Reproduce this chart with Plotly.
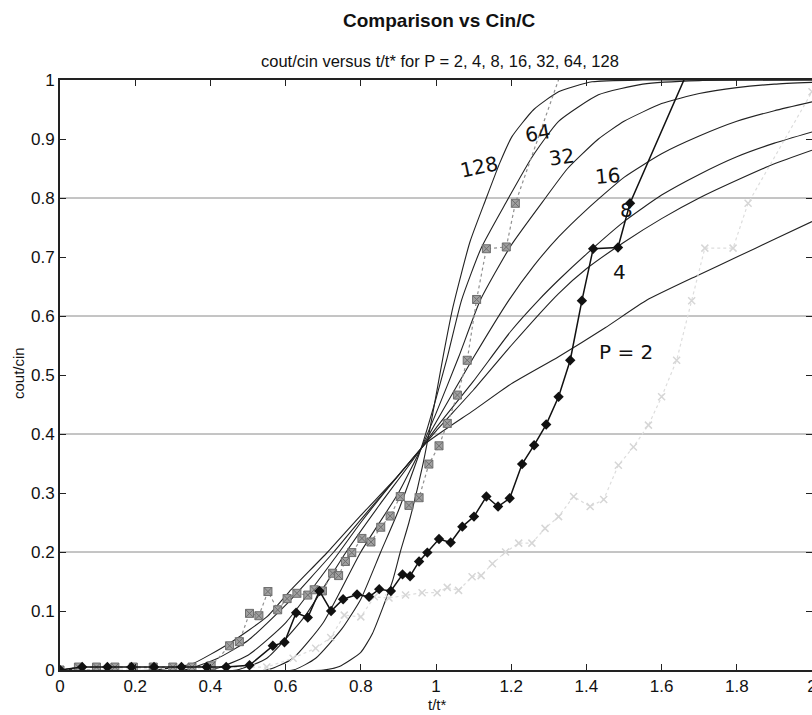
import plotly.graph_objects as go

# ---------------- data ----------------
p_labels = ["2", "4", "8", "16", "32", "64", "128"]

p2_x = [0.0, 0.25, 0.35, 0.45, 0.55, 0.61, 0.712, 0.8, 0.9, 0.973, 1.1, 1.2, 1.326, 1.45, 1.561, 1.7, 1.8, 1.9, 2.0]
p2_y = [0.0, 0.0, 0.01, 0.045, 0.09, 0.133, 0.2, 0.262, 0.33, 0.384, 0.44, 0.485, 0.531, 0.58, 0.627, 0.67, 0.70, 0.73, 0.76]

p4_x = [0.0, 0.33, 0.42, 0.5, 0.6, 0.728, 0.8, 0.9, 0.96, 1.0, 1.1, 1.2, 1.326, 1.4, 1.5, 1.6, 1.7, 1.8, 1.9, 2.0]
p4_y = [0.0, 0.0, 0.02, 0.05, 0.11, 0.2, 0.255, 0.33, 0.375, 0.405, 0.475, 0.55, 0.638, 0.68, 0.725, 0.765, 0.80, 0.83, 0.858, 0.881]

p8_x = [0.0, 0.40, 0.5, 0.6, 0.743, 0.8, 0.9, 0.96, 1.0, 1.1, 1.2, 1.273, 1.326, 1.4, 1.5, 1.6, 1.7, 1.8, 1.9, 2.0]
p8_y = [0.0, 0.0, 0.025, 0.08, 0.2, 0.25, 0.33, 0.375, 0.41, 0.49, 0.575, 0.627, 0.661, 0.705, 0.76, 0.805, 0.84, 0.87, 0.893, 0.912]

p16_x = [0.0, 0.47, 0.55, 0.65, 0.761, 0.85, 0.96, 1.0, 1.1, 1.194, 1.26, 1.326, 1.4, 1.5, 1.6, 1.7, 1.8, 1.9, 2.0]
p16_y = [0.0, 0.0, 0.02, 0.09, 0.2, 0.28, 0.375, 0.42, 0.53, 0.627, 0.685, 0.734, 0.78, 0.835, 0.875, 0.905, 0.93, 0.948, 0.963]

p32_x = [0.0, 0.55, 0.62, 0.7, 0.80, 0.9, 0.96, 1.0, 1.06, 1.118, 1.2, 1.291, 1.35, 1.432, 1.5, 1.6, 1.7, 1.8, 1.9, 2.0]
p32_y = [0.0, 0.0, 0.02, 0.08, 0.2, 0.3, 0.375, 0.435, 0.53, 0.627, 0.72, 0.80, 0.85, 0.9, 0.93, 0.96, 0.977, 0.987, 0.993, 0.996]

p64_x = [0.0, 0.62, 0.68, 0.75, 0.8, 0.853, 0.9, 0.96, 1.0, 1.03, 1.068, 1.12, 1.185, 1.256, 1.326, 1.432, 1.55, 1.7, 2.0]
p64_y = [0.0, 0.0, 0.02, 0.07, 0.12, 0.2, 0.27, 0.375, 0.46, 0.53, 0.627, 0.715, 0.791, 0.87, 0.93, 0.975, 0.993, 0.999, 1.0]

p128_x = [0.0, 0.70, 0.743, 0.80, 0.831, 0.884, 0.905, 0.928, 0.964, 0.99, 1.02, 1.045, 1.09, 1.132, 1.17, 1.202, 1.26, 1.326, 1.415, 1.55, 2.0]
p128_y = [0.0, 0.0, 0.006, 0.03, 0.062, 0.15, 0.2, 0.25, 0.345, 0.43, 0.535, 0.615, 0.725, 0.797, 0.86, 0.904, 0.95, 0.98, 0.997, 1.0, 1.0]

# measured series 1 (grey squares)
sq_x = [0.0, 0.049, 0.097, 0.146, 0.195, 0.248, 0.30, 0.351, 0.402, 0.451, 0.477, 0.504, 0.529, 0.553, 0.579, 0.604,
        0.630, 0.659, 0.676, 0.698, 0.725, 0.741, 0.759, 0.776, 0.803, 0.827, 0.853, 0.878, 0.905, 0.928,
        0.955, 0.981, 1.008, 1.030, 1.057, 1.083, 1.108, 1.134, 1.187, 1.211, 1.335]
sq_y = [0.0, 0.005, 0.005, 0.005, 0.005, 0.005, 0.005, 0.005, 0.007, 0.041, 0.048, 0.096, 0.092, 0.133, 0.102, 0.121,
        0.130, 0.127, 0.136, 0.134, 0.164, 0.160, 0.184, 0.199, 0.223, 0.217, 0.242, 0.261, 0.294, 0.279,
        0.292, 0.349, 0.380, 0.418, 0.466, 0.525, 0.628, 0.714, 0.717, 0.791, 1.017]

# measured series 2 (black diamonds)
dm_x = [0.0, 0.059, 0.126, 0.19, 0.25, 0.323, 0.39, 0.442, 0.504, 0.566, 0.597, 0.628, 0.659, 0.690, 0.721, 0.753,
        0.790, 0.822, 0.849, 0.880, 0.911, 0.931, 0.955, 0.977, 1.008, 1.039, 1.070, 1.101, 1.134, 1.165,
        1.196, 1.229, 1.261, 1.293, 1.326, 1.357, 1.388, 1.418, 1.484, 1.516, 1.671]
dm_y = [0.0, 0.005, 0.005, 0.005, 0.005, 0.005, 0.005, 0.005, 0.008, 0.041, 0.047, 0.097, 0.089, 0.134, 0.100, 0.120,
        0.128, 0.124, 0.137, 0.134, 0.162, 0.159, 0.184, 0.199, 0.222, 0.216, 0.243, 0.260, 0.294, 0.277,
        0.291, 0.349, 0.381, 0.416, 0.463, 0.525, 0.626, 0.714, 0.716, 0.791, 1.017]

# measured series 3 (faint grey)
ft_x = [0.0, 0.55, 0.62, 0.68, 0.72, 0.756, 0.80, 0.836, 0.875, 0.919, 0.963, 1.003, 1.03, 1.06, 1.096, 1.12, 1.15,
        1.185, 1.220, 1.255, 1.29, 1.326, 1.366, 1.410, 1.446, 1.485, 1.525, 1.565, 1.600, 1.640, 1.680,
        1.715, 1.790, 1.830, 2.0]
ft_y = [0.0, 0.005, 0.02, 0.037, 0.055, 0.093, 0.09, 0.124, 0.122, 0.127, 0.131, 0.131, 0.14, 0.135, 0.158, 0.16, 0.18,
        0.20, 0.215, 0.215, 0.24, 0.26, 0.294, 0.277, 0.289, 0.347, 0.378, 0.415, 0.463, 0.525, 0.626,
        0.715, 0.715, 0.791, 0.98]

x_ticks = [0, 0.2, 0.4, 0.6, 0.8, 1, 1.2, 1.4, 1.6, 1.8, 2]
y_ticks = [0, 0.1, 0.2, 0.3, 0.4, 0.5, 0.6, 0.7, 0.8, 0.9, 1]
y_grid = [0.2, 0.4, 0.6, 0.8]

# handwritten labels: (text, x, y, angle)
hand_labels = [("128", 1.114, 0.853, -12), ("64", 1.271, 0.910, -10), ("32", 1.335, 0.869, -8),
               ("16", 1.456, 0.837, -5), ("8", 1.507, 0.78, 0), ("4", 1.488, 0.675, 0), ("P = 2", 1.504, 0.539, 0)]

# ---------------- figure ----------------
fig = go.Figure()

curves = [(p2_x, p2_y), (p4_x, p4_y), (p8_x, p8_y), (p16_x, p16_y), (p32_x, p32_y), (p64_x, p64_y), (p128_x, p128_y)]
for (cx, cy), lab in zip(curves, p_labels):
    fig.add_trace(go.Scatter(x=cx, y=cy, mode="lines", name="P=" + lab,
                             line=dict(color="#222222", width=1.1, shape="spline", smoothing=0.5),
                             showlegend=False, hoverinfo="skip"))

fig.add_trace(go.Scatter(x=ft_x, y=ft_y, mode="lines+markers", showlegend=False,
                         line=dict(color="#dddddd", width=1.2, dash="dot"),
                         marker=dict(symbol="x-thin", size=7, color="#d6d6d6", line=dict(color="#d6d6d6", width=1.5))))
fig.add_trace(go.Scatter(x=sq_x, y=sq_y, mode="lines+markers", showlegend=False,
                         line=dict(color="#909090", width=1.2, dash="dot"),
                         marker=dict(symbol="square-x", size=8, color="#a0a0a0", line=dict(color="#6e6e6e", width=1))))
fig.add_trace(go.Scatter(x=dm_x, y=dm_y, mode="lines+markers", showlegend=False,
                         line=dict(color="#111111", width=1.5),
                         marker=dict(symbol="diamond", size=8, color="#111111")))

shapes = []
for g in y_grid:
    shapes.append(dict(type="line", xref="paper", x0=0, x1=1, yref="y", y0=g, y1=g,
                       line=dict(color="#8a8a8a", width=1), layer="below"))

# plot area spans window x 60..812, y 80..670
PX0, PX1, PY0, PY1 = 60, 812, 80, 670


def px(wx):
    return (wx - PX0) / (PX1 - PX0)


def py(wy):
    return (PY1 - wy) / (PY1 - PY0)


font_main = "Liberation Sans, Arial, sans-serif"
annotations = [
    dict(text="<b>Comparison vs Cin/C</b>", xref="paper", yref="paper", x=px(439), y=py(20), yanchor="middle",
         showarrow=False, font=dict(size=19, color="#111111", family=font_main)),
    dict(text="cout/cin versus t/t* for P = 2, 4, 8, 16, 32, 64, 128", xref="paper", yref="paper", x=px(440),
         y=py(61), yanchor="middle", showarrow=False, font=dict(size=16.5, color="#111111", family=font_main)),
    dict(text="t/t*", xref="paper", yref="paper", x=px(437), y=py(704), yanchor="middle", showarrow=False,
         font=dict(size=15, color="#111111", family=font_main)),
    dict(text="cout/cin", xref="paper", yref="paper", x=px(18), y=py(373), xanchor="center", yanchor="middle",
         textangle=-90, showarrow=False, font=dict(size=15, color="#111111", family=font_main)),
]
for t, ax_, ay_, ang in hand_labels:
    annotations.append(dict(text=t, x=ax_, y=ay_, xref="x", yref="y", showarrow=False, textangle=ang,
                            font=dict(size=20, color="#111111", family="DejaVu Sans, sans-serif")))

fig.update_layout(
    width=812, height=715,
    margin=dict(l=60, r=0, t=80, b=45, autoexpand=False),
    paper_bgcolor="white", plot_bgcolor="white",
    font=dict(family=font_main, size=17, color="#111111"),
    shapes=shapes, annotations=annotations,
    xaxis=dict(range=[0, 2], tickvals=x_ticks, ticktext=[f"{v:g}" for v in x_ticks], ticks="inside", ticklen=6,
               tickcolor="#222", showline=True, linecolor="#222", linewidth=1.5, mirror="ticks", showgrid=False,
               zeroline=False, automargin=False, tickfont=dict(size=17), ticklabeloverflow="allow"),
    yaxis=dict(range=[0, 1], tickvals=y_ticks, ticktext=[f"{v:g}" for v in y_ticks], ticks="inside", ticklen=6,
               tickcolor="#222", showline=True, linecolor="#222", linewidth=1.8, mirror="ticks", showgrid=False,
               zeroline=False, automargin=False, tickfont=dict(size=17)),
)

# remove the browser's default 8 px page margin so the figure fills the window exactly
fig.write_html("out.html", config={"displayModeBar": False},
               post_script="document.body.style.margin='0px';document.body.style.overflow='hidden';")
